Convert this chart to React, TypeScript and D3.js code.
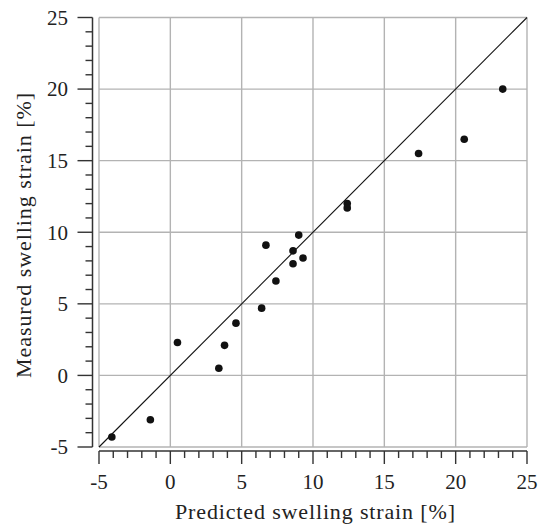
import React from "react";
import * as d3 from "d3";

const predicted = [-4.1, -1.4, 0.5, 3.4, 3.8, 4.6, 6.4, 6.7, 7.4, 8.6, 8.6, 9.0, 9.3, 12.4, 12.4, 17.4, 20.6, 23.3];
const measured = [-4.3, -3.1, 2.3, 0.5, 2.1, 3.65, 4.7, 9.1, 6.6, 8.7, 7.8, 9.8, 8.2, 12.0, 11.7, 15.5, 16.5, 20.0];
const majorTicks = [-5, 0, 5, 10, 15, 20, 25];
const minorTicks = d3.range(-5, 26, 1);
const xTitle = "Predicted swelling strain [%]";
const yTitle = "Measured swelling strain [%]";

export default function App() {
  const W = 544, H = 524;
  const left = 99, right = 527, top = 17.5, bottom = 447;
  const x = d3.scaleLinear().domain([-5, 25]).range([left, right]);
  const y = d3.scaleLinear().domain([-5, 25]).range([bottom, top]);
  const xAxisY = 451;
  const yAxisX = 92.5;
  const font = "'Liberation Serif', 'Times New Roman', serif";
  const grid = "#b3b3b3";
  const ax = "#333";
  return (
    <svg width={W} height={H} style={{ position: "absolute", left: 0, top: 0, background: "#fff" }}>
      {majorTicks.map((t) => (
        <g key={"g" + t}>
          <line x1={x(t)} x2={x(t)} y1={top} y2={bottom} stroke={grid} strokeWidth={1.4} />
          <line x1={left} x2={right} y1={y(t)} y2={y(t)} stroke={grid} strokeWidth={1.4} />
        </g>
      ))}
      <line x1={x(-5)} y1={y(-5)} x2={x(25)} y2={y(25)} stroke="#111" strokeWidth={1.1} />
      {predicted.map((p, i) => (
        <circle key={i} cx={x(p)} cy={y(measured[i])} r={3.8} fill="#111" />
      ))}
      {/* x axis */}
      <line x1={left} x2={right} y1={xAxisY} y2={xAxisY} stroke={ax} strokeWidth={1.5} />
      {minorTicks.map((t) => {
        const major = t % 5 === 0;
        return <line key={"xt" + t} x1={x(t)} x2={x(t)} y1={xAxisY} y2={xAxisY + (major ? 13 : 7)} stroke={ax} strokeWidth={1.4} />;
      })}
      {majorTicks.map((t) => (
        <text key={"xl" + t} x={x(t)} y={488.5} textAnchor="middle" fontFamily={font} fontSize={21} fill="#222">{t}</text>
      ))}
      {/* y axis */}
      <line x1={yAxisX} x2={yAxisX} y1={top} y2={bottom} stroke={ax} strokeWidth={1.5} />
      {minorTicks.map((t) => {
        const major = t % 5 === 0;
        return <line key={"yt" + t} x1={yAxisX} x2={yAxisX - (major ? 15 : 7)} y1={y(t)} y2={y(t)} stroke={ax} strokeWidth={1.4} />;
      })}
      {majorTicks.map((t) => (
        <text key={"yl" + t} x={68} y={y(t)} dy="0.35em" textAnchor="end" fontFamily={font} fontSize={21} fill="#222">{t}</text>
      ))}
      <text x={315} y={518.5} textAnchor="middle" fontFamily={font} fontSize={22} textLength={280} lengthAdjust="spacing" fill="#222">{xTitle}</text>
      <text transform={`translate(31,235.5) rotate(-90)`} textAnchor="middle" fontFamily={font} fontSize={22} textLength={285} lengthAdjust="spacing" fill="#222">{yTitle}</text>
    </svg>
  );
}
